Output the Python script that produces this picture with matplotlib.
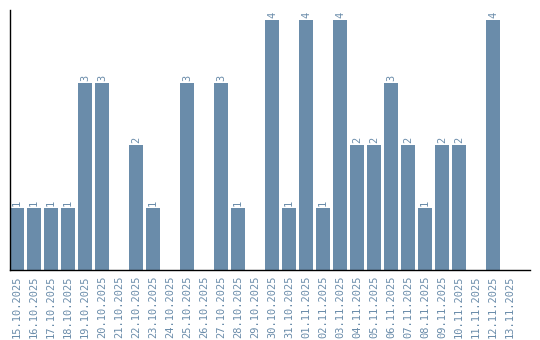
import matplotlib
matplotlib.use("Agg")
import matplotlib.pyplot as plt

dates = ["15.10.2025", "16.10.2025", "17.10.2025", "18.10.2025", "19.10.2025",
         "20.10.2025", "21.10.2025", "22.10.2025", "23.10.2025", "24.10.2025",
         "25.10.2025", "26.10.2025", "27.10.2025", "28.10.2025", "29.10.2025",
         "30.10.2025", "31.10.2025", "01.11.2025", "02.11.2025", "03.11.2025",
         "04.11.2025", "05.11.2025", "06.11.2025", "07.11.2025", "08.11.2025",
         "09.11.2025", "10.11.2025", "11.11.2025", "12.11.2025", "13.11.2025"]
counts = [1, 1, 1, 1, 3, 3, 0, 2, 1, 0, 3, 0, 3, 1, 0,
          4, 1, 4, 1, 4, 2, 2, 3, 2, 1, 2, 2, 0, 4, 0]

color = "#6a8caa"
plt.rcParams['font.family'] = ['DejaVu Sans Mono']

fig = plt.figure(figsize=(5.4, 3.4), dpi=100)
ax = fig.add_axes([10 / 540, 70 / 340, 520 / 540, 260 / 340])

x = list(range(len(dates)))
ax.bar(x, counts, width=0.82, color=color)
for xi, c in zip(x, counts):
    if c > 0:
        ax.text(xi, c + 0.03, str(c), rotation=90, ha="center", va="bottom",
                color=color, fontsize=7.5)

ax.set_xticks(x)
ax.set_xticklabels(dates, rotation=90, color=color, fontsize=7.5)
ax.tick_params(axis="x", length=0, pad=4)
ax.set_yticks([])
ax.set_xlim(-0.41, 30.18)
ax.set_ylim(0, 4.16)
for s in ["top", "right"]:
    ax.spines[s].set_visible(False)
ax.spines["left"].set_linewidth(1)
ax.spines["bottom"].set_linewidth(1)

fig.savefig("out.png", dpi=100)
